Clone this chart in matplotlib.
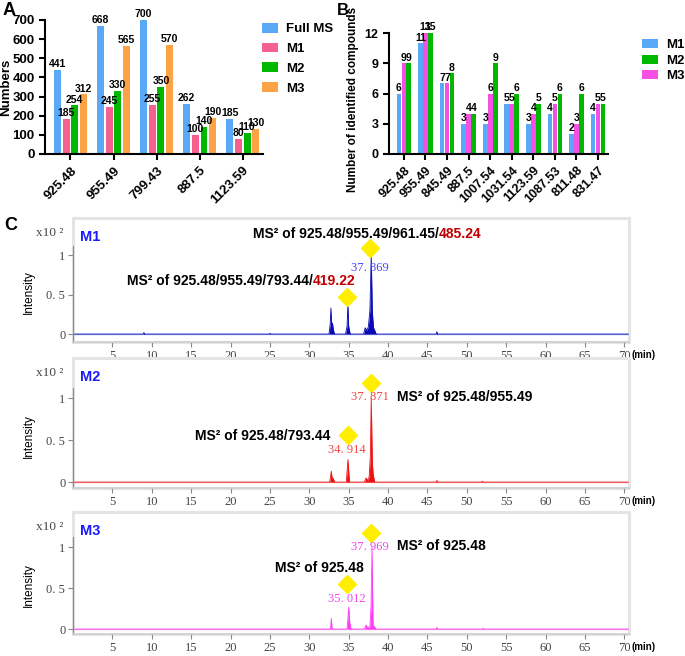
import matplotlib
matplotlib.use("Agg")
import matplotlib.pyplot as plt
from matplotlib.patches import Rectangle
import numpy as np

plt.rcParams["font.family"] = ["Liberation Sans", "DejaVu Sans"]
plt.rcParams["font.weight"] = "bold"

# ---- panel A data
cats_a = ["925.48", "955.49", "799.43", "887.5", "1123.59"]
full_ms = [441, 668, 700, 262, 185]
m1_a = [185, 245, 255, 100, 80]
m2_a = [254, 330, 350, 140, 110]
m3_a = [312, 565, 570, 190, 130]

# ---- panel B data
cats_b = ["925.48", "955.49", "845.49", "887.5", "1007.54", "1031.54",
          "1123.59", "1087.53", "811.48", "831.47"]
m1_b = [6, 11, 7, 3, 3, 5, 3, 4, 2, 4]
m2_b = [9, 15, 8, 4, 9, 6, 5, 6, 6, 5]
m3_b = [9, 13, 7, 4, 6, 5, 4, 5, 3, 5]

# ---- panel C chromatogram traces (time in min, intensity x10^2)
m1_t = [0.2, 8.9, 9.0, 9.1, 24.9, 25.0, 25.1, 32.5, 32.65, 32.75, 32.85, 32.95, 33.05,
        33.2, 34.6, 34.8, 34.9, 35.0, 35.2, 36.9, 37.1, 37.3, 37.5, 37.7, 37.87, 38.0,
        38.15, 38.3, 38.5, 46.1, 46.2, 46.3, 70.5]
m1_i = [0, 0, 0.02, 0, 0, 0.01, 0, 0, 0.12, 0.33, 0.10, 0.14, 0.06,
        0, 0, 0.10, 0.39, 0.10, 0, 0, 0.08, 0.05, 0.09, 0.30, 1.0, 0.30,
        0.08, 0.05, 0, 0, 0.03, 0, 0]
m2_t = [0.2, 32.6, 32.8, 32.9, 33.0, 33.1, 33.2, 34.7, 34.914, 35.1, 37.0, 37.2, 37.4,
        37.6, 37.75, 37.871, 38.0, 38.1, 38.3, 46.1, 46.2, 46.3, 51.9, 52.0, 52.1, 70.5]
m2_i = [0, 0, 0.13, 0.04, 0.05, 0.03, 0, 0, 0.27, 0, 0, 0.05, 0.02,
        0.06, 0.3, 1.0, 0.25, 0.10, 0, 0, 0.02, 0, 0, 0.01, 0, 0]
m3_t = [0.2, 32.7, 32.8, 32.9, 34.8, 35.012, 35.15, 35.3, 37.0, 37.2, 37.4, 37.7,
        37.85, 37.969, 38.1, 38.3, 38.45, 46.1, 46.2, 46.3, 52.0, 52.1, 52.2, 70.5]
m3_i = [0, 0, 0.13, 0, 0, 0.27, 0.07, 0, 0, 0.05, 0.02, 0.03,
        0.3, 1.0, 0.04, 0.03, 0, 0, 0.02, 0, 0, 0.01, 0, 0]

chroms = [
    dict(name="M1", t=m1_t, i=m1_i, color="#0a0ab4", base="#aab4f0", lab="#4646ff",
         peaks=[("37. 869", 37.7, 0.84, "center")],
         notes=[(["MS² of 925.48/955.49/961.45/", "485.24"], 22.9, 1.27),
                (["MS² of 925.48/955.49/793.44/", "419.22"], 6.8, 0.67)],
         diamonds=([37.7, 34.8], [1.09, 0.47]), ylim=(-0.10, 1.47)),
    dict(name="M2", t=m2_t, i=m2_i, color="#ee1111", base="#f5b4b4", lab="#f04646",
         peaks=[("37. 871", 37.7, 1.01, "center"), ("34. 914", 34.8, 0.38, "center")],
         notes=[(["MS² of 925.48/955.49"], 41.2, 1.02),
                (["MS² of 925.48/793.44"], 15.5, 0.55)],
         diamonds=([37.8, 34.9], [1.18, 0.56]), ylim=(-0.07, 1.48)),
    dict(name="M3", t=m3_t, i=m3_i, color="#ff3cf5", base="#f5b4f0", lab="#f046f0",
         peaks=[("37. 969", 37.7, 1.0, "center"), ("35. 012", 34.8, 0.37, "center")],
         notes=[(["MS² of 925.48"], 41.2, 1.02),
                (["MS² of 925.48"], 25.7, 0.74)],
         diamonds=([37.8, 34.8], [1.17, 0.55]), ylim=(-0.06, 1.43)),
]

c_full = "#5aa9f7"
c_m1 = "#f5608f"
c_m2 = "#00b800"
c_m3 = "#fca345"
c_m3b = "#f550e6"

fig = plt.figure(figsize=(6.85, 6.56), dpi=100)
W, H = 685.0, 656.0


def fax(x0, y0, x1, y1):
    # pixel box -> figure axes
    return fig.add_axes([x0 / W, 1 - y1 / H, (x1 - x0) / W, (y1 - y0) / H])


# ================= panel A
axa = fax(45, 20, 263, 154)
xa = np.arange(len(cats_a))
for k, (vals, col, lab) in enumerate([(full_ms, c_full, "Full MS"), (m1_a, c_m1, "M1"),
                                      (m2_a, c_m2, "M2"), (m3_a, c_m3, "M3")]):
    pos = xa + (k - 1.5) * 0.2
    axa.bar(pos, vals, width=0.16, color=col, label=lab)
    for p, v in zip(pos, vals):
        axa.text(p, v + 4, str(v), ha="center", va="bottom", fontsize=7.5, fontweight="bold")
axa.set_xlim(-0.59, 4.47)
axa.set_ylim(0, 700)
axa.set_yticks(range(0, 701, 100))
axa.set_xticks(xa)
axa.set_xticklabels(cats_a, rotation=45, ha="right", rotation_mode="anchor")
axa.tick_params(labelsize=9.5, width=1.5, length=4)
for s in ["top", "right"]:
    axa.spines[s].set_visible(False)
for s in ["left", "bottom"]:
    axa.spines[s].set_linewidth(1.5)
axa.set_ylabel("Numbers", fontsize=9.5, fontweight="bold")
axa.yaxis.set_label_coords(-0.15, 0.5)
axa.legend(loc="upper left", bbox_to_anchor=(262 / W, 1 - 23 / H), bbox_transform=fig.transFigure,
           frameon=False, fontsize=9.5, handlelength=1.2, handleheight=0.75,
           handletextpad=0.6, labelspacing=0.55, borderpad=0, borderaxespad=0)

# ================= panel B
axb = fax(389, 33, 608, 154)
xb = np.arange(len(cats_b))
ytop = 12
for k, (vals, col, lab) in enumerate([(m1_b, c_full, "M1"), (m3_b, c_m3b, "M3"),
                                      (m2_b, c_m2, "M2")]):
    pos = xb + (k - 1) * 0.23
    axb.bar(pos, vals, width=0.22, color=col, label=lab)
    for p, v in zip(pos, vals):
        axb.text(p, min(v, ytop) + 0.05, str(v), ha="center", va="bottom",
                 fontsize=7.5, fontweight="bold")
axb.set_xlim(-0.69, 9.46)
axb.set_ylim(0, ytop)
axb.set_yticks([0, 3, 6, 9, 12])
axb.set_xticks(xb)
axb.set_xticklabels(cats_b, rotation=45, ha="right", rotation_mode="anchor")
axb.tick_params(labelsize=9, width=1.5, length=4)
for s in ["top", "right"]:
    axb.spines[s].set_visible(False)
for s in ["left", "bottom"]:
    axb.spines[s].set_linewidth(1.5)
axb.set_ylabel("Number of identified compounds", fontsize=8.5, fontweight="bold")
axb.yaxis.set_label_coords(-0.135, 0.45)
hb, lb = axb.get_legend_handles_labels()
order = [0, 2, 1]
axb.legend([hb[o] for o in order], [lb[o] for o in order], loc="upper left",
           bbox_to_anchor=(642 / W, 1 - 39 / H), bbox_transform=fig.transFigure,
           frameon=False, fontsize=9.5, handlelength=1.2, handleheight=0.7,
           handletextpad=0.6, labelspacing=0.25, borderpad=0, borderaxespad=0)

# ================= panel C
boxes = [(73, 218, 629, 342), (73, 358, 629, 488), (73, 512, 629, 634)]
serif = ["Liberation Serif", "DejaVu Serif"]
for ch, box in zip(chroms, boxes):
    ax = fax(*box)
    ax.fill_between(ch["t"], ch["i"], 0, color=ch["color"], lw=0, zorder=3)
    ax.plot(ch["t"], ch["i"], color=ch["color"], lw=0.6, zorder=3)
    ax.axhline(0, color=ch["base"], lw=1.0, zorder=2)
    ax.plot(ch["diamonds"][0], ch["diamonds"][1], "D", color="#ffee00", ms=9,
            mec="#ffee00", zorder=5, clip_on=False)
    ax.set_xlim(0, 70.6)
    ax.set_ylim(*ch["ylim"])
    ax.set_xticks(range(5, 71, 5))
    ax.set_yticks([0, 0.5, 1])
    ax.set_yticklabels(["0", "0. 5", "1"])
    for lbl in ax.get_xticklabels() + ax.get_yticklabels():
        lbl.set_family(serif)
        lbl.set_fontweight("normal")
        lbl.set_color("#444444")
    ax.tick_params(labelsize=9, length=3.5, width=0.8, color="#888888", pad=2)
    for s in ["top", "right"]:
        ax.spines[s].set_visible(False)
    ax.spines["bottom"].set_color("#d0d0d0")
    ax.spines["bottom"].set_linewidth(1.2)
    ax.spines["left"].set_color("#8a8a8a")
    ax.spines["left"].set_bounds(ch["ylim"][0], 1.12)
    ax.add_patch(Rectangle((0, 0), 1, 1, transform=ax.transAxes, fill=False,
                           ec="#e4e4e4", lw=2.2, zorder=0, clip_on=False))
    ax.text(0.013, 1 - 12 / (box[3] - box[1]), ch["name"], transform=ax.transAxes,
            color="#1a1aff", fontsize=10.5, fontweight="bold", va="top", ha="left")
    ax.text(-0.018, 1 - 15 / (box[3] - box[1]), "x10 ²", transform=ax.transAxes,
            family=serif, fontweight="normal", fontsize=9.5, color="#444444",
            va="center", ha="right")
    ax.set_ylabel("Intensity", fontsize=8.5, fontweight="normal")
    ax.yaxis.set_label_coords(-0.068, 0.4)
    ax.annotate("(min)", xy=(1, 0), xycoords="axes fraction", xytext=(1.5, -9.5),
                textcoords="offset points", fontsize=7, fontweight="bold",
                ha="left", va="center")
    for txt, x, y, ha in ch["peaks"]:
        ax.text(x, y, txt, family=serif, fontweight="normal", fontsize=9,
                color=ch["lab"], ha=ha, va="center", zorder=6)
    for parts, x, y in ch["notes"]:
        t0 = ax.text(x, y, parts[0], fontsize=10, fontweight="bold", ha="left",
                     va="center", zorder=6)
        if len(parts) > 1:
            ax.annotate(parts[1], xy=(1, 0), xycoords=t0, fontsize=10,
                        fontweight="bold", color="#c00000", ha="left", va="bottom")

# panel letters
fig.text(3 / W, 1 - 2 / H, "A", fontsize=13, fontweight="bold", va="top")
fig.text(337 / W, 1 - 3 / H, "B", fontsize=12, fontweight="bold", va="top")
fig.text(4 / W, 1 - 217 / H, "C", fontsize=13, fontweight="bold", va="top")

fig.savefig("out.png", dpi=100)
